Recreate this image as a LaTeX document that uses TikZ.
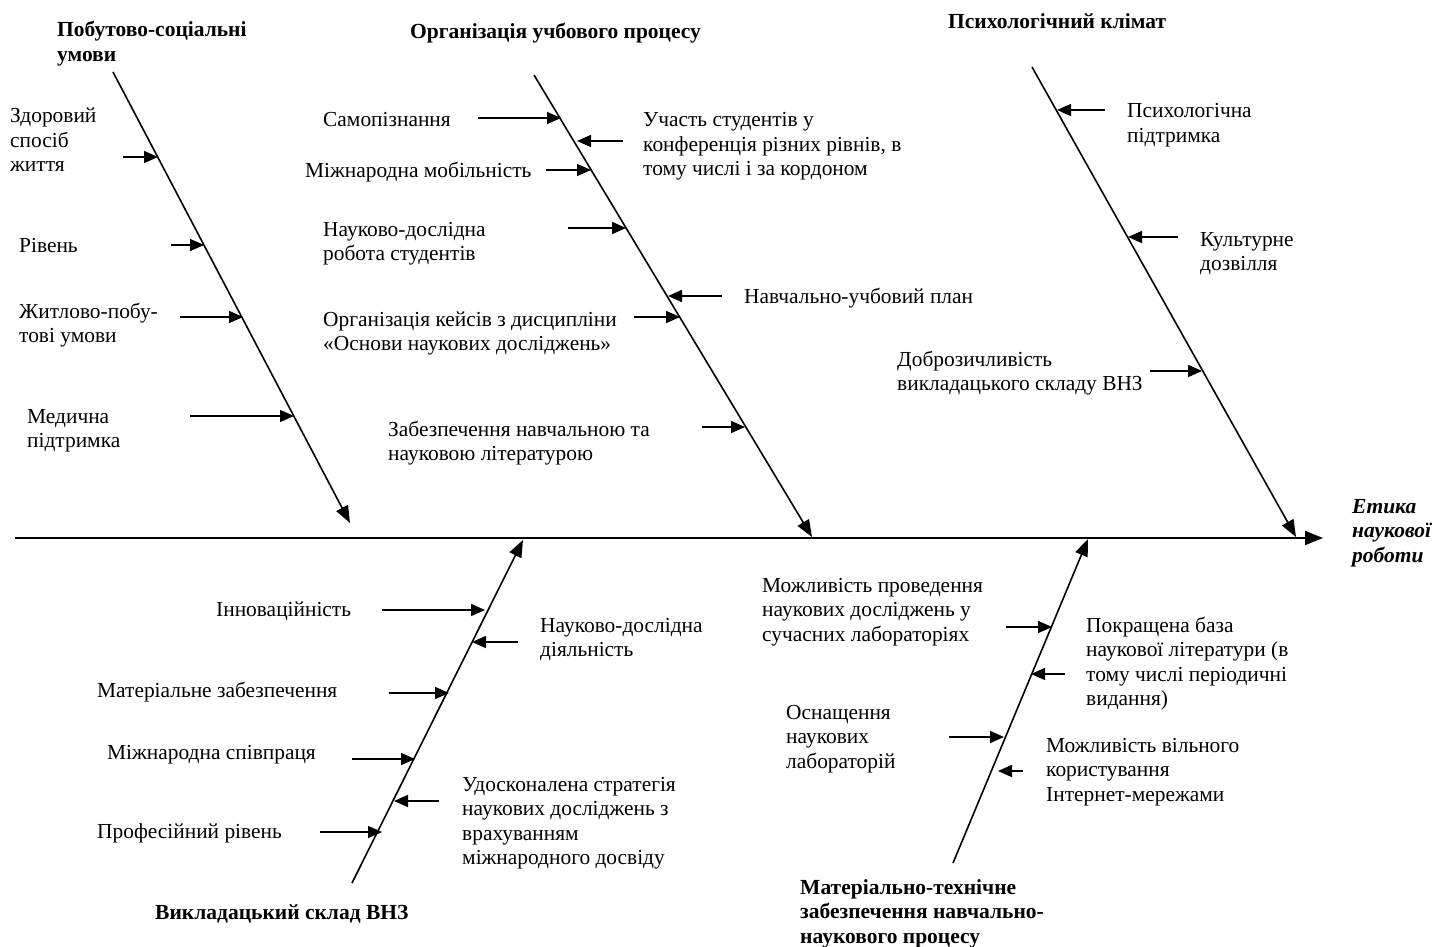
\documentclass[tikz,border=0pt]{standalone}
\usepackage{fontspec}
\setmainfont{Liberation Serif}
\usetikzlibrary{arrows.meta}
\newcommand\ml[1]{\begin{tabular}[t]{@{}l@{}}#1\end{tabular}}
\begin{document}
\begin{tikzpicture}[x=1pt,y=-1pt,
  txt/.style={inner sep=0pt, anchor=base west, font=\fontsize{21.4}{24.5}\selectfont},
  ttl/.style={inner sep=0pt, anchor=base west, font=\fontsize{21.5}{24.5}\selectfont\bfseries},
  spine/.style={line width=1.9pt, -{Triangle[length=18pt,width=14pt]}},
  bone/.style={line width=1.6pt, -{Triangle[length=17pt,width=13pt]}},
  cause/.style={line width=1.6pt, -{Triangle[length=14pt,width=12pt]}}]
\useasboundingbox (0,0) rectangle (1448,947);

% spine
\coordinate (s0) at (15,538);
\coordinate (s1) at (1323,538);
\draw[spine] (s0) -- (s1);

% bones
\coordinate (b1s) at (113,72);   \coordinate (b1e) at (350,523);
\coordinate (b2s) at (534,75);   \coordinate (b2e) at (812,537);
\coordinate (b3s) at (1032,67);  \coordinate (b3e) at (1296,537);
\coordinate (b4s) at (352,883);  \coordinate (b4e) at (523,540);
\coordinate (b5s) at (953,863);  \coordinate (b5e) at (1088,539);
\foreach \i in {1,...,5} \draw[bone] (b\i s) -- (b\i e);

% titles
\node[ttl] (t1) at (57,37) {\ml{Побутово-соціальні\\умови}};
\node[ttl] (t2) at (410,39) {Організація учбового процесу};
\node[ttl] (t3) at (948,29) {Психологічний клімат};
\node[ttl] (t4) at (155,919) {Викладацький склад ВНЗ};
\node[ttl] (t5) at (800,894) {\ml{Матеріально-технічне\\забезпечення навчально-\\наукового процесу}};
\node[ttl, font=\fontsize{21.5}{24.5}\selectfont\bfseries\itshape] (eff) at (1352,513) {\ml{Етика\\наукової\\роботи}};

% bone 1
\node[txt] (n11) at (10,123) {\ml{Здоровий\\спосіб\\життя}};
\node[txt] (n12) at (19,252) {Рівень};
\node[txt] (n13) at (19,318) {\ml{Житлово-побу-\\тові умови}};
\node[txt] (n14) at (27,423) {\ml{Медична\\підтримка}};
\coordinate (a11) at (123,157); \coordinate (e11) at (158,157);
\coordinate (a12) at (171,245); \coordinate (e12) at (204,245);
\coordinate (a13) at (180,317); \coordinate (e13) at (243,317);
\coordinate (a14) at (190,416); \coordinate (e14) at (294,416);

% bone 2
\node[txt] (n21) at (323,127) {Самопізнання};
\node[txt] (n22) at (643,127) {\ml{Участь студентів у\\конференція різних рівнів, в\\тому числі і за кордоном}};
\node[txt] (n23) at (305,177) {Міжнародна мобільність};
\node[txt] (n24) at (323,236) {\ml{Науково-дослідна\\робота студентів}};
\node[txt] (n25) at (744,303) {Навчально-учбовий план};
\node[txt] (n26) at (323,326) {\ml{Організація кейсів з дисципліни\\«Основи наукових досліджень»}};
\node[txt] (n27) at (388,436) {\ml{Забезпечення навчальною та\\науковою літературою}};
\coordinate (a21) at (478,118); \coordinate (e21) at (561,118);
\coordinate (a22) at (623,141); \coordinate (e22) at (577,141);
\coordinate (a23) at (546,170); \coordinate (e23) at (591,170);
\coordinate (a24) at (568,228); \coordinate (e24) at (626,228);
\coordinate (a25) at (722,296); \coordinate (e25) at (668,296);
\coordinate (a26) at (634,317); \coordinate (e26) at (680,317);
\coordinate (a27) at (702,427); \coordinate (e27) at (745,427);

% bone 3
\node[txt] (n31) at (1127,118) {\ml{Психологічна\\підтримка}};
\node[txt] (n32) at (1200,246) {\ml{Культурне\\дозвілля}};
\node[txt] (n33) at (897,366) {\ml{Доброзичливість\\викладацького складу ВНЗ}};
\coordinate (a31) at (1105,110); \coordinate (e31) at (1057,110);
\coordinate (a32) at (1178,237); \coordinate (e32) at (1128,237);
\coordinate (a33) at (1150,371); \coordinate (e33) at (1202,371);

% bone 4
\node[txt] (n41) at (216,616) {Інноваційність};
\node[txt] (n42) at (540,632) {\ml{Науково-дослідна\\діяльність}};
\node[txt] (n43) at (97,697) {Матеріальне забезпечення};
\node[txt] (n44) at (107,759) {Міжнародна співпраця};
\node[txt] (n45) at (462,791) {\ml{Удосконалена стратегія\\наукових досліджень з\\врахуванням\\міжнародного досвіду}};
\node[txt] (n46) at (97,838) {Професійний рівень};
\coordinate (a41) at (382,610); \coordinate (e41) at (485,610);
\coordinate (a42) at (518,642); \coordinate (e42) at (472,642);
\coordinate (a43) at (389,693); \coordinate (e43) at (449,693);
\coordinate (a44) at (352,759); \coordinate (e44) at (415,759);
\coordinate (a45) at (439,801); \coordinate (e45) at (394,801);
\coordinate (a46) at (320,832); \coordinate (e46) at (382,832);

% bone 5
\node[txt] (n51) at (762,592) {\ml{Можливість проведення\\наукових досліджень у\\сучасних лабораторіях}};
\node[txt] (n52) at (1086,632) {\ml{Покращена база\\наукової літератури (в\\тому числі періодичні\\видання)}};
\node[txt] (n53) at (786,719) {\ml{Оснащення\\наукових\\лабораторій}};
\node[txt] (n54) at (1046,752) {\ml{Можливість вільного\\користування\\Інтернет-мережами}};
\coordinate (a51) at (1006,627); \coordinate (e51) at (1052,627);
\coordinate (a52) at (1065,674); \coordinate (e52) at (1031,674);
\coordinate (a53) at (949,737); \coordinate (e53) at (1004,737);
\coordinate (a54) at (1023,771); \coordinate (e54) at (998,771);

\foreach \p in {11,12,13,14,21,22,23,24,25,26,27,31,32,33,41,42,43,44,45,46,51,52,53,54}
  \draw[cause] (a\p) -- (e\p);
\end{tikzpicture}
\end{document}
